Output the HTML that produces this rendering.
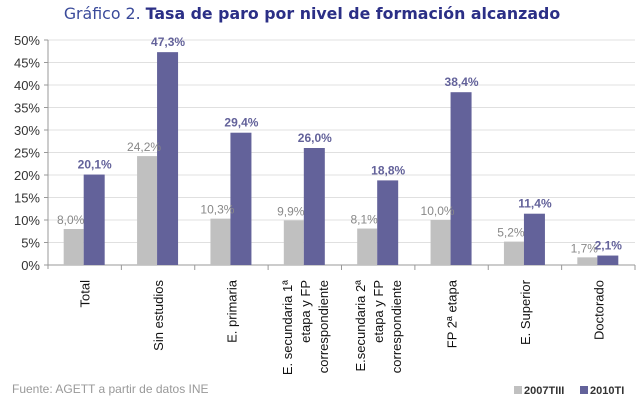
<!DOCTYPE html>
<html><head><meta charset="utf-8"><style>
body{margin:0;background:#fff;width:640px;height:405px;overflow:hidden;font-family:"Liberation Sans",sans-serif}
</style></head><body>
<svg id="c" width="640" height="405" xmlns="http://www.w3.org/2000/svg">
<text x="312" y="19" text-anchor="middle" font-family="DejaVu Sans, sans-serif" font-size="15.8" fill="#2b2f86"><tspan fill="#3a4a9a">Gráfico 2.</tspan> <tspan font-weight="bold">Tasa de paro por nivel de formación alcanzado</tspan></text>
<text x="12" y="393" font-size="12" fill="#999">Fuente: AGETT a partir de datos INE</text>
<g>
<rect x="514" y="386" width="8" height="8" fill="#c0c0c0"/>
<text x="524" y="394" font-size="11" font-weight="bold" fill="#333">2007TIII</text>
<rect x="580" y="386" width="8" height="8" fill="#63629a"/>
<text x="590" y="394" font-size="11" font-weight="bold" fill="#333">2010TI</text>
</g>
</svg>
<script>
const categories=[["Total"],["Sin estudios"],["E. primaria"],["E. secundaria 1ª","etapa y FP","correspondiente"],["E.secundaria 2ª","etapa y FP","correspondiente"],["FP 2ª etapa"],["E. Superior"],["Doctorado"]];
const s2007=[8.0,24.2,10.3,9.9,8.1,10.0,5.2,1.7];
const s2010=[20.1,47.3,29.4,26.0,18.8,38.4,11.4,2.1];
const ticks=[0,5,10,15,20,25,30,35,40,45,50];
const NS="http://www.w3.org/2000/svg",svg=document.getElementById('c');
const x0=48,x1=635,y0=265,y1=40;
const gw=(x1-x0)/categories.length;
const Y=v=>y0-(v-0)/(50-0)*(y0-y1);
function mk(t,a,p){const e=document.createElementNS(NS,t);for(const k in a)e.setAttribute(k,a[k]);(p||svg).appendChild(e);return e;}
ticks.forEach(t=>{
 const g=mk('line',{x1:x0,x2:x1,y1:Y(t),y2:Y(t),stroke:t?'#e0e0e0':'#999','stroke-width':1});
 
 
 mk('line',{x1:x0-4,x2:x0,y1:Y(t),y2:Y(t),stroke:'#999'});
 const l=mk('text',{x:x0-8,y:Y(t)+5,'text-anchor':'end','font-size':13,fill:'#333'});
 l.textContent=t+'%';
 
 
});
const ax=mk('line',{x1:x0,x2:x0,y1:y1,y2:y0+4,stroke:'#999'});


categories.forEach((c,i)=>{
 const gx=x0+i*gw, cx=gx+gw/2;
 mk('line',{x1:gx+gw,x2:gx+gw,y1:y0,y2:y0+5,stroke:'#999'});
 const b1=mk('rect',{x:cx-21,y:Y(s2007[i]),width:20,height:y0-Y(s2007[i]),fill:'#c0c0c0'});
 
 
 const b2=mk('rect',{x:cx-1,y:Y(s2010[i]),width:21,height:y0-Y(s2010[i]),fill:'#63629a'});
 
 
 const t1=mk('text',{x:cx-14,y:Y(s2007[i])-5,'text-anchor':'middle','font-size':12,fill:'#888'});
 t1.textContent=s2007[i].toFixed(1).replace('.',',')+'%';
 
 
 const t2=mk('text',{x:cx+10,y:Y(s2010[i])-6,'text-anchor':'middle','font-size':12,'font-weight':'bold',fill:'#63629a'});
 t2.textContent=s2010[i].toFixed(1).replace('.',',')+'%';
 
 
 const n=c.length;
 c.forEach((line,j)=>{
  const lx=cx+(j-(n-1)/2)*18+5;
  const t=mk('text',{x:lx,y:280,'text-anchor':'end','font-size':13,fill:'#111',transform:`rotate(-90 ${lx} 280)`});
  t.textContent=line;
  
  
 });
});
</script>
</body></html>
